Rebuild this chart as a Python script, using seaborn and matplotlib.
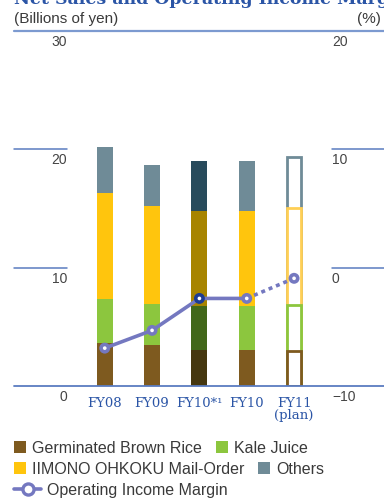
import numpy as np
import pandas as pd
import matplotlib
matplotlib.use("Agg")
import matplotlib.pyplot as plt
from matplotlib.patches import Patch
from matplotlib.lines import Line2D
from matplotlib.transforms import blended_transform_factory
import seaborn as sns

# ---- data (billions of yen / %) ----
years = ["FY08", "FY09", "FY10*\u00b9", "FY10", "FY11\n(plan)"]
brown_rice = [3.67, 3.50, 3.05, 3.05, 3.00]
kale_juice = [3.70, 3.45, 3.73, 3.73, 3.86]
mail_order = [8.93, 8.30, 8.05, 8.05, 8.20]
others = [3.87, 3.39, 4.15, 4.15, 4.31]
op_margin = [-6.8, -5.3, -2.6, -2.6, -0.9]

segment_names = ["Germinated Brown Rice", "Kale Juice",
                 "IIMONO OHKOKU Mail-Order", "Others"]
base_colors = ["#7E5A1F", "#8CC63E", "#FFC50D", "#6F8B97"]
alt_colors = ["#45370F", "#416719", "#A78400", "#284B5C"]   # FY10*1 basis
plan_edges = ["#7E5A1F", "#8CC63E", "#FFCF55", "#6F8B97"]  # FY11 plan outline

line_color = "#7478C0"
dark_marker = "#1D3C92"
axis_blue = "#5A7CC0"
tick_blue = "#2B55A6"
text_gray = "#3A3A3A"

sns.set_theme(style="white")
plt.rcParams["font.family"] = ["Liberation Sans", "DejaVu Sans"]

W, H = 384, 498
fig = plt.figure(figsize=(W / 100, H / 100), dpi=100)
ax = fig.add_axes([14 / W, 112 / H, 370 / W, 355 / H])

# ---- stacked bars: draw cumulative totals from the top segment down ----
layers = [brown_rice, kale_juice, mail_order, others]
cum = np.cumsum(np.array(layers), axis=0)
bar_w = 0.34
for k in range(3, -1, -1):
    colors = [base_colors[k]] * len(years)
    colors[2] = alt_colors[k]
    df = pd.DataFrame({"year": years, "value": cum[k]})
    n0 = len(ax.patches)
    sns.barplot(data=df, x="year", y="value", hue="year",
                palette=dict(zip(years, colors)), width=bar_w,
                saturation=1, errorbar=None, legend=False,
                linewidth=0, ax=ax)
    for p in ax.patches[n0:]:
        if abs(p.get_x() + p.get_width() / 2 - 4) < 0.01:
            # plan year: hollow outline
            p.set_facecolor("white")
            p.set_edgecolor(plan_edges[k])
            p.set_linewidth(2.0)
            w = p.get_width()
            p.set_width(w * 0.9)
            p.set_x(4 - w * 0.45)

ax.set_ylim(0, 30)
ax.set_xlim(-1.917, 5.90)
ax.set_xlabel("")
ax.set_ylabel("")
for s in ax.spines.values():
    s.set_visible(False)
ax.set_yticks([])
ax.tick_params(axis="x", length=0, pad=8, colors=tick_blue)
for lab in ax.get_xticklabels():
    lab.set_fontfamily("DejaVu Serif")
    lab.set_fontsize(9.5)
    lab.set_color(tick_blue)
    lab.set_linespacing(0.85)

# ---- rules and axis labels ----
ax.axhline(0, color=axis_blue, lw=1.3, clip_on=False, zorder=5)
ax.axhline(30, color="#7C9AD0", lw=1.6, clip_on=False, zorder=5)
xl = (67 - 14) / 370
xr = (332 - 14) / 370
for v in (10, 20):
    ax.axhline(v, xmin=0, xmax=xl, color=axis_blue, lw=1.1, clip_on=False)
    ax.axhline(v, xmin=xr, xmax=1, color=axis_blue, lw=1.1, clip_on=False)

tl = blended_transform_factory(ax.transAxes, ax.transData)
for v in (0, 10, 20, 30):
    ax.annotate(str(v), xy=(xl, v), xycoords=tl, xytext=(0, -11),
                textcoords="offset pixels", ha="right", va="center",
                fontsize=10, color="#444444")

ax2 = ax.twinx()
ax2.set_ylim(-10, 20)
for s in ax2.spines.values():
    s.set_visible(False)
ax2.set_yticks([])
tr = blended_transform_factory(ax2.transAxes, ax2.transData)
for v in (-10, 0, 10, 20):
    lbl = "\u221210" if v < 0 else str(v)
    ax2.annotate(lbl, xy=(xr, v), xycoords=tr, xytext=(0, -11),
                 textcoords="offset pixels", ha="left", va="center",
                 fontsize=10, color="#444444")

# ---- operating income margin line ----
idx = np.arange(len(years))
sns.lineplot(x=idx[:4], y=op_margin[:4], color=line_color, lw=2.6,
             ax=ax2, zorder=6)
sns.lineplot(x=idx[3:], y=op_margin[3:], color=line_color, lw=2.6,
             linestyle=(0, (1.1, 1.1)), ax=ax2, zorder=6)
fill = [line_color] * len(years)
fill[2] = dark_marker
ax2.scatter(idx, op_margin, s=62, c=fill, edgecolors="none", zorder=7)
ax2.scatter(idx, op_margin, s=7, c="white", edgecolors="none", zorder=8)
ax2.set_xlabel("")
ax2.set_ylabel("")
ax2.set_xlim(-1.917, 5.90)
ax2.tick_params(axis="x", length=0)

# ---- header texts ----
fig.text(14 / W, 1 - 4.5 / H, "Net Sales and Operating Income Margin",
         fontfamily="DejaVu Serif", fontweight="bold", fontsize=12.5,
         color="#2B55A6", va="baseline", ha="left")
fig.text(14 / W, 1 - 19.5 / H, "(Billions of yen)", fontsize=11,
         color=text_gray, va="center", ha="left")
fig.text(381 / W, 1 - 19.5 / H, "(%)", fontsize=11,
         color=text_gray, va="center", ha="right")

# ---- legend rows ----
def patch(c):
    return Patch(facecolor=c, edgecolor="none")

common = dict(frameon=False, fontsize=11.5, handlelength=0.78,
              handleheight=0.78, handletextpad=0.35, borderpad=0,
              borderaxespad=0, labelcolor=text_gray)
leg1 = fig.legend([patch(base_colors[0]), patch(base_colors[1])],
                  [segment_names[0], segment_names[1]], ncol=2,
                  columnspacing=0.85, loc="center left",
                  bbox_to_anchor=(14 / W, 1 - 448 / H), **common)
leg2 = fig.legend([patch(base_colors[2]), patch(base_colors[3])],
                  [segment_names[2], segment_names[3]], ncol=2,
                  columnspacing=0.85, loc="center left",
                  bbox_to_anchor=(14 / W, 1 - 469 / H), **common)
margin_handle = Line2D([], [], color=line_color, lw=2.6, marker="o",
                       markersize=8, markerfacecolor="white",
                       markeredgecolor=line_color, markeredgewidth=2.4)
leg3 = fig.legend([margin_handle], ["Operating Income Margin"],
                  loc="center left", bbox_to_anchor=(14 / W, 1 - 490 / H),
                  **{**common, "handlelength": 1.7, "handletextpad": 0.35})

fig.savefig("out.png", dpi=100)
